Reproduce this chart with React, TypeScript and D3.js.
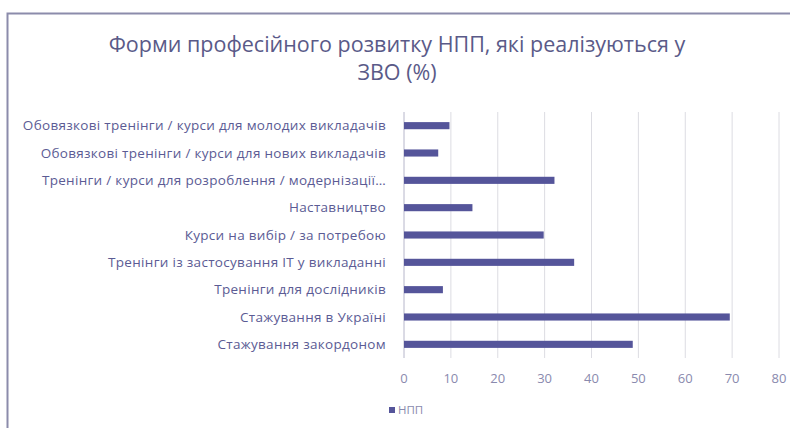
import React, { useEffect, useRef } from "react"
import * as d3 from "d3"

// categories top to bottom, as in the picture
const categories = [
  "Обовязкові тренінги / курси для молодих викладачів",
  "Обовязкові тренінги / курси для нових викладачів",
  "Тренінги / курси для розроблення / модернізації…",
  "Наставництво",
  "Курси на вибір / за потребою",
  "Тренінги із застосування ІТ у викладанні",
  "Тренінги для дослідників",
  "Стажування в Україні",
  "Стажування закордоном",
]
const values = [9.7, 7.3, 32.1, 14.6, 29.8, 36.3, 8.3, 69.5, 48.8]
const xTicks = [0, 10, 20, 30, 40, 50, 60, 70, 80]
const seriesName = "НПП"
const titleLines = ["Форми професійного розвитку НПП, які реалізуються у", "ЗВО (%)"]

export default function App() {
  const ref = useRef(null)

  useEffect(() => {
    const width = 790, height = 428
    const margin = { top: 112, right: 11, bottom: 70, left: 404 }
    const font = "'Open Sans', 'Noto Sans', sans-serif"
    const barColor = "#55559a"
    const textColor = "#5b5b94"

    const svg = d3.select(ref.current).attr("width", width).attr("height", height)
    svg.selectAll("*").remove()

    svg.append("rect").attr("width", width).attr("height", height).attr("fill", "#fff")

    // frame (left + top edge visible)
    svg.append("path")
      .attr("d", `M7.5,${height} L7.5,13.5 L${width},13.5`)
      .attr("fill", "none")
      .attr("stroke", "#8c8cab")
      .attr("stroke-width", 2)

    const x = d3.scaleLinear().domain([0, 80]).range([margin.left, width - margin.right])
    const y = d3.scaleBand().domain(categories).range([margin.top, height - margin.bottom]).paddingInner(0.74).paddingOuter(0.37)

    // title
    const title = svg.append("text")
      .attr("x", 397)
      .attr("y", 52)
      .attr("text-anchor", "middle")
      .attr("font-family", font)
      .attr("font-size", 21.5)
      .attr("fill", "#5a5a88")
    titleLines.forEach((t, i) => {
      title.append("tspan").attr("x", 397).attr("dy", i ? 28 : 0).text(t)
    })

    // gridlines
    svg.append("g")
      .selectAll("line")
      .data(xTicks)
      .join("line")
      .attr("x1", d => x(d))
      .attr("x2", d => x(d))
      .attr("y1", margin.top)
      .attr("y2", height - margin.bottom)
      .attr("stroke", "#dcdce2")
      .attr("stroke-width", 1)

    // category axis line
    svg.append("line")
      .attr("x1", x(0)).attr("x2", x(0))
      .attr("y1", margin.top).attr("y2", height - margin.bottom)
      .attr("stroke", "#c8c8d8")

    // bars
    svg.append("g")
      .selectAll("rect")
      .data(values)
      .join("rect")
      .attr("x", x(0))
      .attr("y", (d, i) => y(categories[i]))
      .attr("width", d => x(d) - x(0))
      .attr("height", y.bandwidth())
      .attr("fill", barColor)

    // category labels
    svg.append("g")
      .selectAll("text")
      .data(categories)
      .join("text")
      .attr("x", x(0) - 18)
      .attr("y", d => y(d) + y.bandwidth() / 2)
      .attr("dy", "0.35em")
      .attr("text-anchor", "end")
      .attr("font-family", font)
      .attr("font-size", 13.5)
      .attr("letter-spacing", 0.3)
      .attr("fill", textColor)
      .text(d => d)

    // x tick labels
    svg.append("g")
      .selectAll("text")
      .data(xTicks)
      .join("text")
      .attr("x", d => x(d))
      .attr("y", 383)
      .attr("text-anchor", "middle")
      .attr("font-family", font)
      .attr("font-size", 13)
      .attr("fill", "#8a8aae")
      .text(d => d)

    // legend
    const legend = svg.append("g").attr("transform", "translate(389,410)")
    legend.append("rect").attr("x", 0).attr("y", -3).attr("width", 6).attr("height", 6).attr("fill", barColor)
    legend.append("text")
      .attr("x", 9)
      .attr("y", 0)
      .attr("dy", "0.35em")
      .attr("font-family", font)
      .attr("font-size", 11.5)
      .attr("fill", "#8a8aae")
      .text(seriesName)
  }, [])

  return <svg ref={ref} style={{ position: "absolute", left: 0, top: 0, display: "block" }}></svg>
}
